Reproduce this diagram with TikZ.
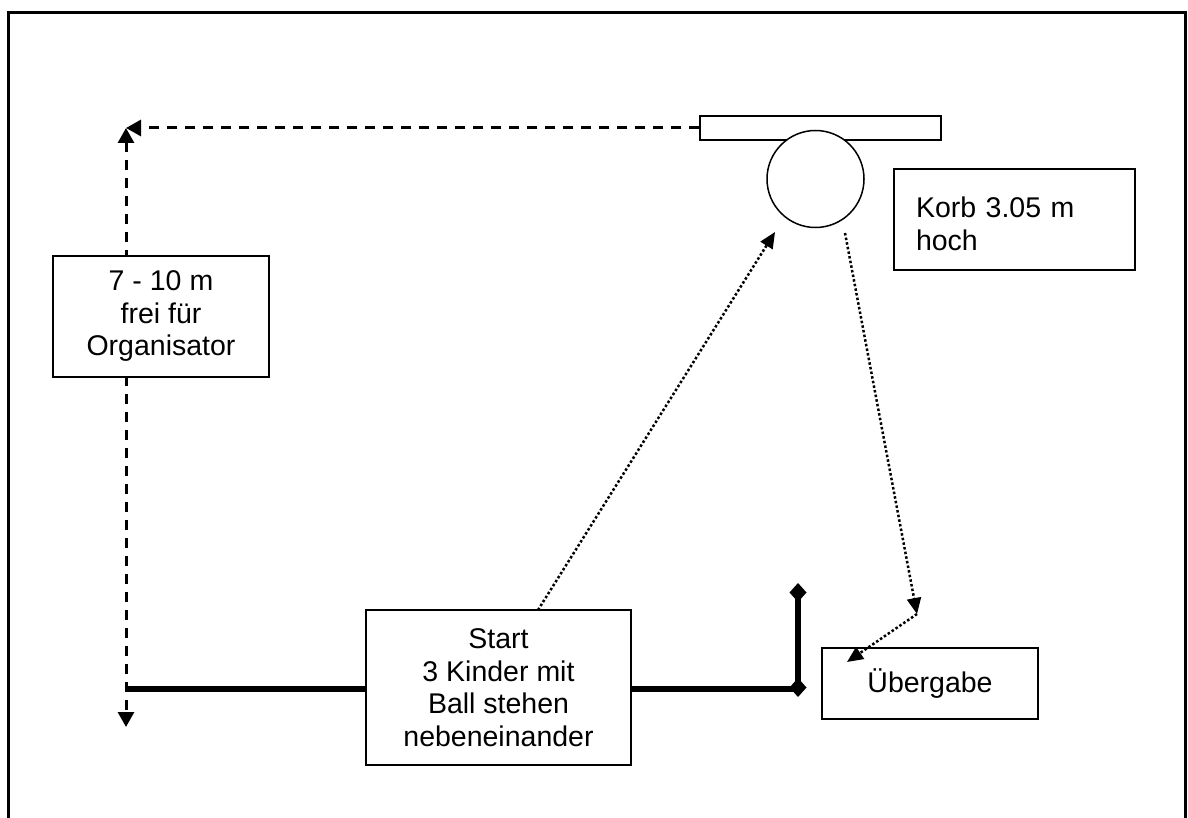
\documentclass[tikz,border=0pt]{standalone}
\usepackage{fontspec}
\setmainfont{Liberation Sans}
\usetikzlibrary{arrows.meta}
\begin{document}
\begin{tikzpicture}[x=1pt,y=-1pt,
  box/.style={draw, line width=1.5pt, fill=white, inner sep=0pt, align=center,
    font=\fontsize{28.5}{32.5}\selectfont},
  dashline/.style={line width=3pt, dash pattern=on 10pt off 8pt},
  dotline/.style={line width=2.5pt, dash pattern=on 2.5pt off 2.2pt},
  thickline/.style={line width=5.5pt},
  frameline/.style={line width=3pt},
  bigtri/.tip={Triangle[length=15pt,width=16pt]},
  dottri/.tip={Triangle[length=16pt,width=14pt]},
  diam/.tip={Diamond[length=19pt,width=17pt]}
]
\useasboundingbox (0,0) rectangle (1188,818);
% frame
\draw[frameline] (8,820) -- (8,13) -- (1185,13) -- (1185,820);

% coordinates
\coordinate (corner) at (126,128);
\coordinate (bottom) at (126,727);
\coordinate (lb) at (126,689);
\coordinate (rc) at (798,689);
\coordinate (dlow) at (798,697);
\coordinate (dtop) at (798,583);
\coordinate (s1) at (538,610);
\coordinate (t1) at (775,232);
\coordinate (c2) at (845,233);
\coordinate (bend) at (917,614);
\coordinate (t3) at (847,662);

% backboard and ring
\node[draw, line width=1.5pt, fill=white, minimum width=241pt, minimum height=24pt, inner sep=0pt] (board) at (820.5,128) {};
\node[draw, circle, line width=1.5pt, fill=white, minimum size=97pt, inner sep=0pt] (ring) at (815.5,179) {};

% dashed arrows
\draw[dashline, -{bigtri}] (board.west) -- (corner);
\draw[dashline, {bigtri}-{bigtri}] (corner) -- (bottom);

% thick lines
\draw[thickline] (lb) -- (rc);
\draw[thickline, {diam}-{diam}] (dlow) -- (dtop);

% boxes
\node[box, minimum width=216pt, minimum height=121pt] (org) at (161,316.5) {7 - 10 m\\frei für\\Organisator};
\node[box, minimum width=265pt, minimum height=155pt] (start) at (498.5,687.5) {Start\\3 Kinder mit\\Ball stehen\\nebeneinander};
\node[box, minimum width=216pt, minimum height=71pt] (ueber) at (930,683.5) {Übergabe};
\node[box, align=left, text width=197pt, inner xsep=22pt, minimum height=101pt] (korb) at (1014.5,219.5) {\rule{0pt}{29pt}Korb 3.05 m\\hoch};

% dotted arrows
\draw[dotline, -{dottri}] (s1) -- (t1);
\draw[dotline, -{dottri}] (c2) -- (bend);
\draw[dotline, -{dottri}] (bend) -- (t3);
\end{tikzpicture}
\end{document}
